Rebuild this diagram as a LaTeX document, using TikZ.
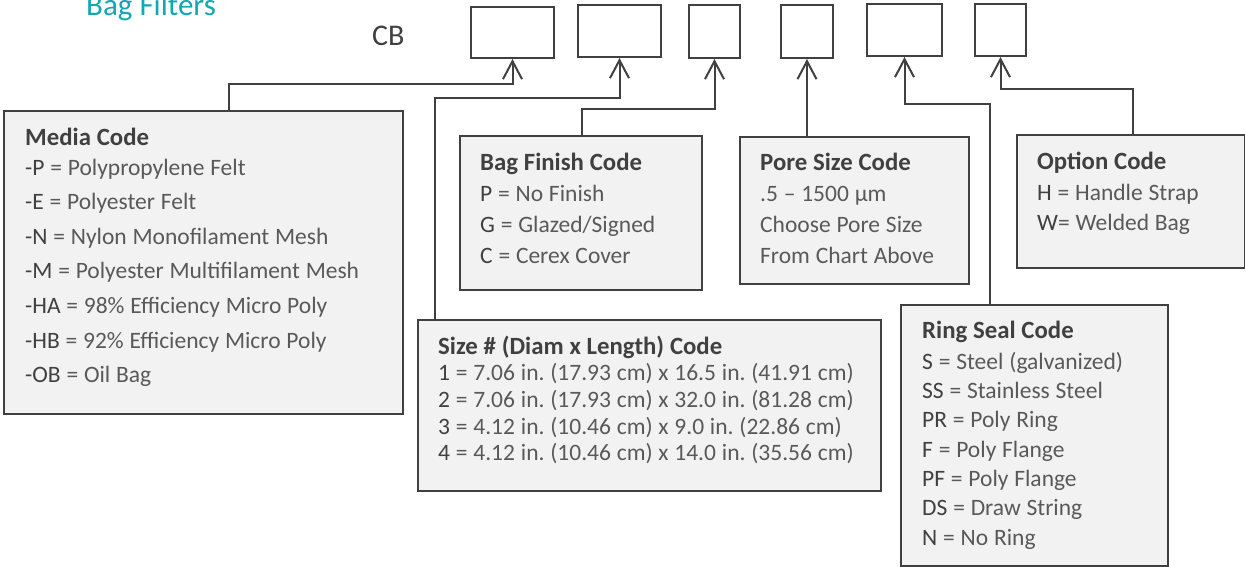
\documentclass[tikz,border=0pt]{standalone}
\usepackage{fontspec}
\setmainfont{Carlito}
\usepackage{tikz}
\usetikzlibrary{arrows.meta}

\definecolor{ink}{HTML}{404040}
\definecolor{lightink}{HTML}{595959}
\definecolor{panelgray}{HTML}{F2F2F2}
\definecolor{titleteal}{RGB}{18,166,182}

\newcommand{\cd}[1]{{\color{ink}#1}}
\newcommand{\hd}[1]{{\fontsize{24.8}{\baselineskip}\selectfont\bfseries\color{ink}#1}}
\frenchspacing

\begin{document}
\begin{tikzpicture}[x=1pt, y=-1pt,
        slot/.style={rectangle, draw=ink, fill=white, line width=2pt, anchor=north west, inner sep=0pt},
        panel/.style={rectangle, draw=ink, fill=panelgray, line width=2pt, anchor=north west, inner sep=0pt},
        legend/.style={anchor=base west, inner sep=0pt, text width=#1, align=left, text=lightink,
          execute at begin node={\spaceskip=5.8pt plus 1pt\relax}},
        link/.style={draw=ink, line width=2pt, -{Straight Barb[length=18pt, width=19pt]}}
      ]
        \useasboundingbox (0,0) rectangle (1245,566);

        \node[anchor=base west, inner sep=0pt, text=titleteal, font=\fontsize{31}{37}\selectfont] (title) at (86,15) {Bag Filters};
        \node[anchor=base west, inner sep=0pt, text=ink, font=\fontsize{30}{36}\selectfont] (cb) at (372,45) {CB};

        % code slots
        \node[slot, minimum width=83, minimum height=51] (slot1) at (470,6) {};
        \node[slot, minimum width=83, minimum height=52] (slot2) at (577,4) {};
        \node[slot, minimum width=51, minimum height=53] (slot3) at (688,4) {};
        \node[slot, minimum width=52, minimum height=53] (slot4) at (780,4) {};
        \node[slot, minimum width=75, minimum height=52] (slot5) at (866,3) {};
        \node[slot, minimum width=51, minimum height=52] (slot6) at (974,3) {};

        % legend panels
        \node[panel, minimum width=399, minimum height=303] (media)  at (3,110)   {};
        \node[panel, minimum width=463, minimum height=171] (size)   at (417,319) {};
        \node[panel, minimum width=242, minimum height=154] (finish) at (459,135) {};
        \node[panel, minimum width=229, minimum height=147] (pore)   at (739,136) {};
        \node[panel, minimum width=267, minimum height=261] (ring)   at (900,304) {};
        \node[panel, minimum width=228, minimum height=133] (option) at (1016,134) {};

        \node[legend=375, font=\fontsize{23.5}{34.6}\selectfont] (media text) at (25,145) {%
          \hd{Media Code}\\[-4.6pt]
          \cd{-P} = Polypropylene Felt\\
          \cd{-E} = Polyester Felt\\
          \cd{-N} = Nylon Monofilament Mesh\\
          \cd{-M} = Polyester Multifilament Mesh\\
          \cd{-HA} = 98\% Efficiency Micro Poly\\
          \cd{-HB} = 92\% Efficiency Micro Poly\\
          \cd{-OB} = Oil Bag};
        \node[legend=440, font=\fontsize{23.5}{26.7}\selectfont] (size text) at (438,354) {%
          \hd{Size \# (Diam x Length) Code}\\
          \cd{1} = 7.06 in. (17.93 cm) x 16.5 in. (41.91 cm)\\
          \cd{2} = 7.06 in. (17.93 cm) x 32.0 in. (81.28 cm)\\
          \cd{3} = 4.12 in. (10.46 cm) x 9.0 in. (22.86 cm)\\
          \cd{4} = 4.12 in. (10.46 cm) x 14.0 in. (35.56 cm)};
        \node[legend=215, font=\fontsize{23.5}{31}\selectfont] (finish text) at (480,170.7) {%
          \hd{Bag Finish Code}\\
          \cd{P} = No Finish\\
          \cd{G} = Glazed/Signed\\
          \cd{C} = Cerex Cover};
        \node[legend=205, font=\fontsize{23.5}{31}\selectfont] (pore text) at (760,170.7) {%
          \hd{Pore Size Code}\\
          .5 – 1500 µm\\
          Choose Pore Size\\
          From Chart Above};
        \node[legend=240, font=\fontsize{23.5}{29.3}\selectfont] (ring text) at (922,338.3) {%
          \hd{Ring Seal Code}\\[1.7pt]
          \cd{S} = Steel (galvanized)\\
          \cd{SS} = Stainless Steel\\
          \cd{PR} = Poly Ring\\
          \cd{F} = Poly Flange\\
          \cd{PF} = Poly Flange\\
          \cd{DS} = Draw String\\
          \cd{N} = No Ring};
        \node[legend=200, font=\fontsize{23.5}{30.7}\selectfont] (option text) at (1037,169.3) {%
          \hd{Option Code}\\
          \cd{H} = Handle Strap\\
          \cd{W}= Welded Bag};

        % connectors
        \draw[link] ([xshift=25.5]media.north) -- ++(0,-26) -| (slot1.south);
        \draw[link] ([xshift=-214.5]size.north) -- ++(0,-221) -| (slot2.south);
        \draw[link] ([xshift=1]finish.north) -- ++(0,-26) -| (slot3.south);
        \draw[link] (pore.north -| slot4.south) -- (slot4.south);
        \draw[link] ([xshift=-44.5]ring.north) -- ++(0,-200) -| (slot5.south);
        \draw[link] ([xshift=2]option.north) -- ++(0,-45) -| (slot6.south);
      \end{tikzpicture}
\end{document}
